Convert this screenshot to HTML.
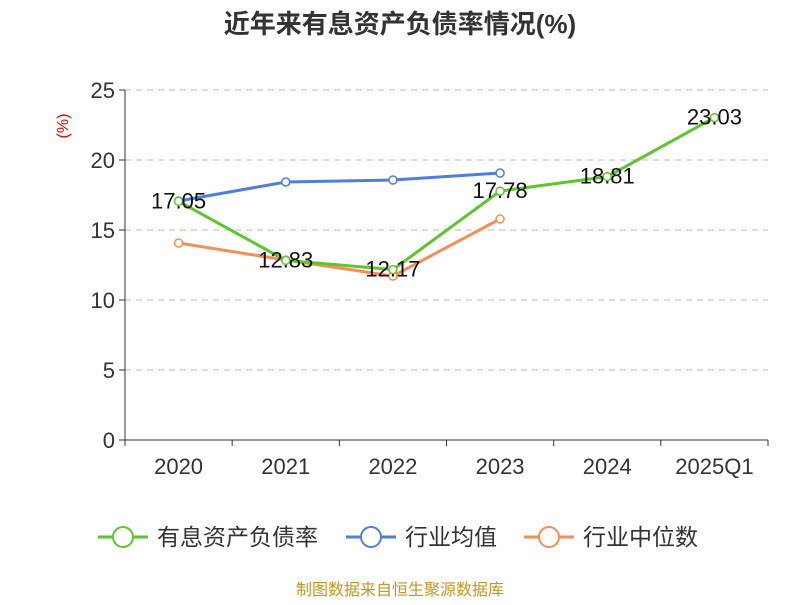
<!DOCTYPE html>
<html><head><meta charset="utf-8"><style>
body{margin:0;background:#fff;font-family:"Liberation Sans","Noto Sans CJK SC",sans-serif}
</style></head><body>
<svg width="800" height="600" xmlns="http://www.w3.org/2000/svg" font-family="Liberation Sans, Noto Sans CJK SC, sans-serif">
<text x="400" y="33" text-anchor="middle" font-size="26" font-weight="bold" fill="#333">近年来有息资产负债率情况(%)</text>
<text x="68" y="126" text-anchor="middle" font-size="16" fill="#e00" transform="rotate(-90 68 126)">(%)</text>
<g id="grid"></g><g id="axes"></g><g id="series"></g>
<g>
<g><line x1="98" y1="537" x2="148" y2="537" stroke="#5cc72a" stroke-width="3"/><circle cx="123" cy="537" r="10" fill="#fff" stroke="#5cc72a" stroke-width="2"/><text x="157" y="545" font-size="23" fill="#333">有息资产负债率</text></g>
<g><line x1="346" y1="537" x2="396" y2="537" stroke="#4e7fdf" stroke-width="3"/><circle cx="371" cy="537" r="10" fill="#fff" stroke="#4e7fdf" stroke-width="2"/><text x="405" y="545" font-size="23" fill="#333">行业均值</text></g>
<g><line x1="524" y1="537" x2="574" y2="537" stroke="#fa8c55" stroke-width="3"/><circle cx="549" cy="537" r="10" fill="#fff" stroke="#fa8c55" stroke-width="2"/><text x="583" y="545" font-size="23" fill="#333">行业中位数</text></g>
</g>
<text x="400" y="595" text-anchor="middle" font-size="16" fill="#c8961e">制图数据来自恒生聚源数据库</text>
</svg>
<script>
const categories=["2020","2021","2022","2023","2024","2025Q1"];
const debtRatio=[17.05,12.83,12.17,17.78,18.81,23.03];
const industryAvg=[17.07,18.43,18.57,19.07];
const industryMedian=[14.07,12.86,11.71,15.79];
const yTicks=[0,5,10,15,20,25];
const NS="http://www.w3.org/2000/svg";
const x0=125,x1=768,yTop=90,yBot=440,yMax=25;
const bw=(x1-x0)/categories.length;
const X=i=>x0+bw*(i+0.5);
const Y=v=>yBot-(v/yMax)*(yBot-yTop);
function mk(tag,attrs,parent){const e=document.createElementNS(NS,tag);for(const k in attrs)e.setAttribute(k,attrs[k]);document.getElementById(parent).appendChild(e);return e;}
yTicks.forEach(t=>{
 if(t>0){const g=mk('line',{x1:x0,x2:x1,y1:Y(t),y2:Y(t),stroke:'#bbb','stroke-dasharray':'6,5'},'grid');
 
 }
 const tk=mk('line',{x1:x0-6,x2:x0,y1:Y(t),y2:Y(t),stroke:'#333'},'axes');
 
 
 const l=mk('text',{x:x0-10,y:Y(t)+8,'text-anchor':'end','font-size':22,fill:'#333'},'axes');l.textContent=t;
 
 
});
const ya=mk('line',{x1:x0,x2:x0,y1:yTop,y2:yBot,stroke:'#333'},'axes');


const xa=mk('line',{x1:x0,x2:x1,y1:yBot,y2:yBot,stroke:'#333'},'axes');


for(let i=0;i<=categories.length;i++){const t=mk('line',{x1:x0+bw*i,x2:x0+bw*i,y1:yBot,y2:yBot+6,stroke:'#333'},'axes');
 
 }
categories.forEach((c,i)=>{const l=mk('text',{x:X(i),y:yBot+34,'text-anchor':'middle','font-size':22,fill:'#333'},'axes');l.textContent=c;
 
 });
function series(data,color,name,labels){
 const p=mk('polyline',{points:data.map((v,i)=>X(i)+','+Y(v)).join(' '),fill:'none',stroke:color,'stroke-width':3},'series');
 
 
 data.forEach((v,i)=>{const c=mk('circle',{cx:X(i),cy:Y(v),r:4,fill:'#fff',stroke:color,'stroke-width':1.5},'series');
  
  });
 if(labels)data.forEach((v,i)=>{const t=mk('text',{x:X(i),y:Y(v)+7,'text-anchor':'middle','font-size':22,fill:'#111'},'series');t.textContent=v.toFixed(2);
  
  });
}
series(industryAvg,'#4e7fdf','industry-avg',false);
series(industryMedian,'#fa8c55','industry-median',false);
series(debtRatio,'#5cc72a','debt-ratio',true);
</script>
</body></html>
